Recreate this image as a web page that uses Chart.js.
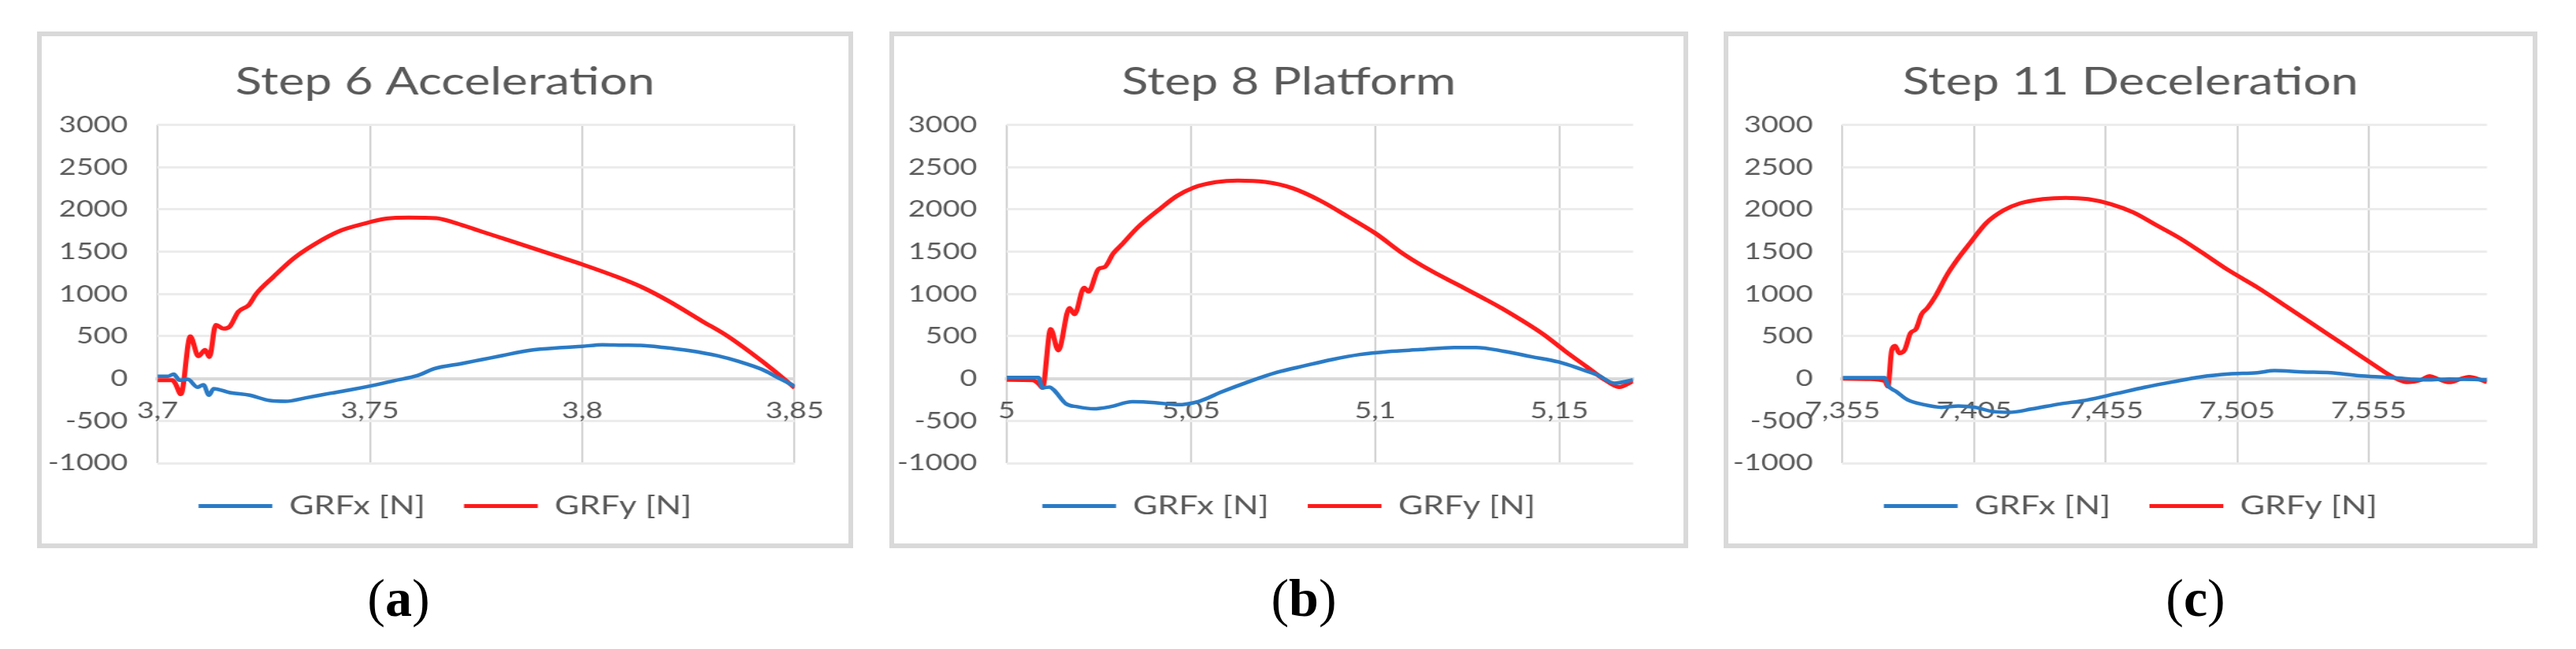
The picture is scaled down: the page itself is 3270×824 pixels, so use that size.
<!DOCTYPE html>
<html>
<head>
<meta charset="utf-8">
<script src="https://cdn.jsdelivr.net/npm/chart.js@4/dist/chart.umd.min.js"></script>
<style>
  body { margin: 0; width: 3270px; height: 824px; background: #fff; position: relative; overflow: hidden; }
  .box { position: absolute; top: 40px; height: 644px; border: 6px solid #d9d9d9; background: #fff; overflow: hidden; }
  .stretch { position: absolute; left: 0; top: 0; transform-origin: 0 0; }
  .cap { position: absolute; top: 725px; font: 68px/68px "Liberation Serif", serif; transform: translateX(-50%); color: #000; }
  .cap b { font-weight: bold; }
</style>
</head>
<body>

<div class="box" id="boxA" style="left:47px;width:1024px"><div class="stretch"><canvas id="chartA"></canvas></div></div>
<div class="box" id="boxB" style="left:1129px;width:1002px"><div class="stretch"><canvas id="chartB"></canvas></div></div>
<div class="box" id="boxC" style="left:2188px;width:1021px"><div class="stretch"><canvas id="chartC"></canvas></div></div>

<div class="cap" style="left:506px">(<b>a</b>)</div>
<div class="cap" style="left:1655px">(<b>b</b>)</div>
<div class="cap" style="left:2787px">(<b>c</b>)</div>

<script>
// Step 6 Acceleration
var timeAx = [3.7, 3.7025, 3.7038, 3.7052, 3.7071, 3.7094, 3.7108, 3.7121, 3.7132, 3.717, 3.7217, 3.7264, 3.7302, 3.7349, 3.7406, 3.7453, 3.75, 3.7557, 3.7613, 3.7651, 3.7717, 3.7764, 3.7811, 3.7877, 3.7953, 3.8, 3.8047, 3.8094, 3.8136, 3.8188, 3.8253, 3.8318, 3.837, 3.8422, 3.8461, 3.85];
var grfxA = [28, 28, 53, -20, -9, -103, -72, -197, -119, -166, -197, -260, -269, -228, -175, -134, -88, -25, 37, 116, 178, 225, 272, 334, 366, 381, 400, 395, 392, 370, 330, 270, 200, 110, 10, -90];
var timeAy = [3.7, 3.7035, 3.7042, 3.7055, 3.7077, 3.7096, 3.7112, 3.7122, 3.7137, 3.7155, 3.717, 3.719, 3.7215, 3.7232, 3.7272, 3.732, 3.737, 3.7431, 3.7487, 3.7539, 3.7591, 3.7656, 3.7695, 3.7747, 3.7799, 3.7864, 3.7929, 3.8, 3.8083, 3.8143, 3.8202, 3.8282, 3.8341, 3.8401, 3.845, 3.85];
var grfyA = [-20, -20, -60, -185, 500, 265, 340, 255, 635, 590, 615, 790, 870, 1000, 1200, 1420, 1590, 1750, 1834, 1892, 1905, 1897, 1850, 1765, 1680, 1575, 1467, 1350, 1200, 1075, 920, 680, 505, 290, 100, -110];
var ticksA = [3.7, 3.75, 3.8, 3.85];

// Step 8 Platform
var timeBx = [5, 5.0086, 5.0097, 5.0116, 5.0128, 5.0161, 5.0191, 5.0236, 5.0281, 5.0341, 5.0402, 5.0462, 5.0522, 5.0582, 5.0657, 5.0732, 5.0808, 5.0883, 5.0958, 5.1033, 5.1123, 5.1214, 5.1274, 5.1349, 5.1424, 5.1499, 5.1559, 5.1605, 5.165, 5.17];
var grfxB = [12, 12, -110, -100, -136, -299, -333, -358, -333, -274, -284, -309, -269, -160, -37, 72, 151, 225, 284, 319, 343, 368, 368, 323, 259, 195, 111, 40, -55, -15];
var timeBy = [5, 5.007, 5.0086, 5.0097, 5.0119, 5.014, 5.017, 5.0184, 5.021, 5.0222, 5.0249, 5.0266, 5.0289, 5.0311, 5.0356, 5.0417, 5.0462, 5.0507, 5.0567, 5.0627, 5.0702, 5.0777, 5.0853, 5.0928, 5.1, 5.1078, 5.1153, 5.1229, 5.1304, 5.1344, 5.1457, 5.1514, 5.1574, 5.1625, 5.1662, 5.17];
var grfyB = [-15, -20, -60, -110, 585, 332, 835, 760, 1076, 1028, 1297, 1320, 1480, 1580, 1790, 2012, 2160, 2259, 2323, 2343, 2325, 2250, 2100, 1910, 1720, 1470, 1272, 1099, 926, 830, 522, 330, 140, -20, -100, -30];
var ticksB = [5, 5.05, 5.1, 5.15];

// Step 11 Deceleration
var timeCx = [7.355, 7.3711, 7.3722, 7.3754, 7.3797, 7.3861, 7.3926, 7.399, 7.4054, 7.4119, 7.4183, 7.4269, 7.4376, 7.4483, 7.4591, 7.4698, 7.4805, 7.4913, 7.502, 7.5127, 7.5192, 7.5299, 7.5406, 7.5513, 7.562, 7.5706, 7.5771, 7.5857, 7.6];
var grfxC = [10, 10, -79, -153, -251, -310, -340, -325, -340, -389, -399, -360, -300, -251, -177, -103, -39, 20, 54, 69, 94, 79, 69, 34, 15, -5, -15, -5, -15];
var timeCy = [7.355, 7.365, 7.3711, 7.3722, 7.3737, 7.375, 7.3765, 7.3786, 7.3808, 7.3829, 7.385, 7.3872, 7.3904, 7.3947, 7.399, 7.4033, 7.4097, 7.4162, 7.4226, 7.4312, 7.4398, 7.4483, 7.4569, 7.4655, 7.4741, 7.4827, 7.4913, 7.502, 7.5127, 7.5235, 7.5342, 7.5449, 7.5556, 7.5642, 7.5696, 7.575, 7.5782, 7.5814, 7.5857, 7.59, 7.5932, 7.5975, 7.6];
var grfyC = [0, -5, -30, -94, 340, 389, 300, 340, 537, 586, 759, 833, 980, 1227, 1424, 1596, 1842, 1990, 2074, 2123, 2138, 2123, 2064, 1966, 1818, 1670, 1498, 1276, 1079, 857, 635, 414, 192, 20, -44, -15, 30, -5, -44, -5, 20, -15, -44];
var ticksC = [7.355, 7.405, 7.455, 7.505, 7.555];

var yTickMin = -1000;
var yTickMax = 3000;
var yTickStep = 500;
var seriesNames = ['GRFx [N]', 'GRFy [N]'];

var BLUE = '#2a7bc6';
var RED = '#ff1a1a';
var GREY_TEXT = '#595959';
var FONT = 'Lato';
// the source figure is stretched sideways, so the canvas is drawn narrower and scaled back
var STRETCH = 1.3;

function points(times, values) {
    return times.map(function(t, i) { return {x: t, y: values[i]}; });
}

function makeChart(canvasId, title, tx, fx, ty, fy, xTicks, innerWidth, leftAxis, rightPad) {
    var canvas = document.getElementById(canvasId);
    var w = Math.round(innerWidth / STRETCH);
    canvas.width = w;
    canvas.height = 644;
    var k = innerWidth / w;
    canvas.parentNode.style.transform = 'scaleX(' + k + ')';

    new Chart(canvas, {
        type: 'line',
        data: {
            datasets: [{
                label: seriesNames[0],
                data: points(tx, fx),
                borderColor: BLUE,
                backgroundColor: BLUE,
                borderWidth: 4.5,
                pointRadius: 0,
                cubicInterpolationMode: 'monotone'
            }, {
                label: seriesNames[1],
                data: points(ty, fy),
                borderColor: RED,
                backgroundColor: RED,
                borderWidth: 5,
                pointRadius: 0,
                cubicInterpolationMode: 'monotone'
            }]
        },
        options: {
            responsive: false,
            animation: false,
            layout: { padding: { top: 0, left: 0, right: 0, bottom: 21 } },
            plugins: {
                tooltip: { enabled: false },
                title: {
                    display: true,
                    text: title,
                    color: GREY_TEXT,
                    font: { family: FONT, size: 48, weight: 'normal' },
                    padding: { top: 30, bottom: 25 }
                },
                legend: {
                    position: 'bottom',
                    labels: {
                        color: GREY_TEXT,
                        font: { family: FONT, size: 33 },
                        boxWidth: 72,
                        boxHeight: 5,
                        padding: 38,
                        generateLabels: function(chart) {
                            return Chart.defaults.plugins.legend.labels.generateLabels(chart).map(function(l) {
                                l.lineWidth = 0;
                                return l;
                            });
                        }
                    }
                }
            },
            scales: {
                x: {
                    type: 'linear',
                    position: { y: 0 },
                    min: xTicks[0],
                    max: tx[tx.length - 1],
                    afterBuildTicks: function(scale) {
                        scale.ticks = xTicks.map(function(v) { return {value: v}; });
                    },
                    ticks: {
                        color: GREY_TEXT,
                        font: { family: FONT, size: 29 },
                        padding: 24,
                        maxRotation: 0,
                        autoSkip: false,
                        callback: function(v) { return String(v).replace('.', ','); }
                    },
                    grid: { color: '#d4d4d4', lineWidth: 2, drawTicks: false },
                    border: { display: true, color: '#d9d9d9', width: 4 }
                },
                y: {
                    min: yTickMin,
                    max: yTickMax,
                    ticks: {
                        stepSize: yTickStep,
                        color: GREY_TEXT,
                        font: { family: FONT, size: 29 },
                        padding: 29,
                        callback: function(v) { return String(v); }
                    },
                    grid: { color: '#ececec', lineWidth: 3, drawTicks: false },
                    border: { display: false },
                    afterFit: function(scale) { scale.width = leftAxis / k; }
                },
                y2: {
                    type: 'linear',
                    position: 'right',
                    grid: { display: false },
                    border: { display: false },
                    ticks: { display: false },
                    afterFit: function(scale) { scale.width = rightPad / k; }
                }
            }
        }
    });
}

makeChart('chartA', 'Step 6 Acceleration', timeAx, grfxA, timeAy, grfyA, ticksA, 1024, 147, 67);
makeChart('chartB', 'Step 8 Platform', timeBx, grfxB, timeBy, grfyB, ticksB, 1002, 143, 64);
makeChart('chartC', 'Step 11 Deceleration', timeCx, grfxC, timeCy, grfyC, ticksC, 1021, 145, 58);
</script>
</body>
</html>
